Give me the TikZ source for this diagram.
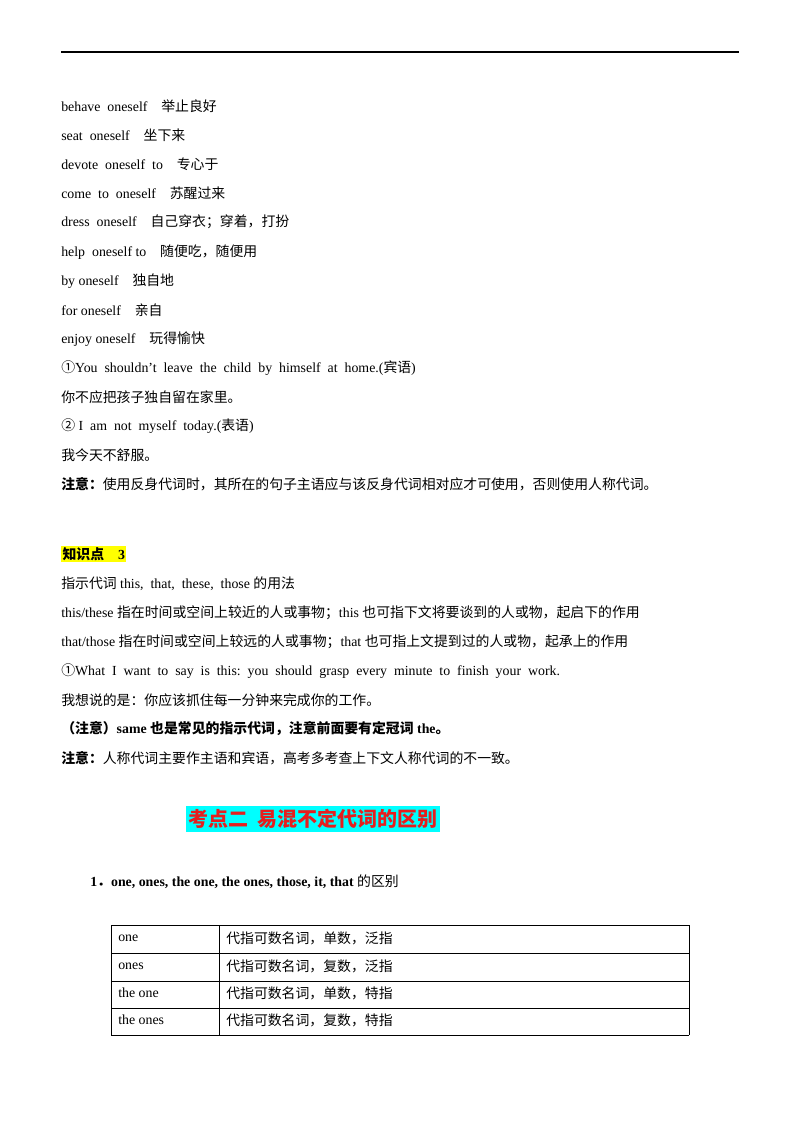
\documentclass[tikz,border=0pt]{standalone}
\usepackage{fontspec}
\setmainfont{Liberation Serif}
\newfontfamily\cjk{Noto Sans CJK SC}
\newcommand{\zh}[1]{{\cjk #1}}
\definecolor{hcyan}{RGB}{0,255,255}
\definecolor{hred}{RGB}{230,30,30}
\definecolor{hyel}{RGB}{255,255,0}
\begin{document}
\begin{tikzpicture}[x=0.75pt,y=-0.75pt,
  tx/.style={anchor=west,inner sep=0pt,font=\fontsize{10.4}{12}\selectfont},
  cell/.style={anchor=west,inner sep=0pt,font=\fontsize{10.4}{12}\selectfont}]
\useasboundingbox (0,0) rectangle (800,1132);
\fill[white] (0,0) rectangle (800,1132);
\draw[line width=1.5pt] (61,52) -- (739,52);
\node[tx] (l1) at (61,106) {behave\ \ oneself\quad \zh{举止良好}};
\node[tx] (l2) at (61,135) {seat\ \ oneself\quad \zh{坐下来}};
\node[tx] (l3) at (61,164) {devote\ \ oneself\ \ to\quad \zh{专心于}};
\node[tx] (l4) at (61,193) {come\ \ to\ \ oneself\quad \zh{苏醒过来}};
\node[tx] (l5) at (61,222) {dress\ \ oneself\quad \zh{自己穿衣；穿着，打扮}};
\node[tx] (l6) at (61,252) {help\ \ oneself to\quad \zh{随便吃，随便用}};
\node[tx] (l7) at (61,281) {by oneself\quad \zh{独自地}};
\node[tx] (l8) at (61,310) {for oneself\quad \zh{亲自}};
\node[tx] (l9) at (61,339) {enjoy oneself\quad \zh{玩得愉快}};
\node[tx] (l10) at (61,368) {\zh{①}You\ \ shouldn't\ \ leave\ \ the\ \ child\ \ by\ \ himself\ \ at\ \ home.(\zh{宾语})};
\node[tx] (l11) at (61,397) {\zh{你不应把孩子独自留在家里。}};
\node[tx] (l12) at (61,426) {\zh{②} I\ \ am\ \ not\ \ myself\ \ today.(\zh{表语})};
\node[tx] (l13) at (61,455) {\zh{我今天不舒服。}};
\node[tx] (l14) at (61,484) {{\cjk\bfseries 注意：}\zh{使用反身代词时，其所在的句子主语应与该反身代词相对应才可使用，否则使用人称代词。}};
\node[tx,fill=hyel,inner sep=1pt] (k3) at (61,554) {{\cjk\bfseries 知识点}\quad\textbf{3}};
\node[tx] (m1) at (61,584) {\zh{指示代词} this,\ \ that,\ \ these,\ \ those \zh{的用法}};
\node[tx] (m2) at (61,613) {this/these \zh{指在时间或空间上较近的人或事物；}this \zh{也可指下文将要谈到的人或物，起启下的作用}};
\node[tx] (m3) at (61,642) {that/those \zh{指在时间或空间上较远的人或事物；}that \zh{也可指上文提到过的人或物，起承上的作用}};
\node[tx] (m4) at (61,671) {\zh{①}What\ \ I\ \ want\ \ to\ \ say\ \ is\ \ this:\ \ you\ \ should\ \ grasp\ \ every\ \ minute\ \ to\ \ finish\ \ your\ \ work.};
\node[tx] (m5) at (61,700) {\zh{我想说的是：你应该抓住每一分钟来完成你的工作。}};
\node[tx] (m6) at (61,729) {{\cjk\bfseries （注意）}\textbf{same} {\cjk\bfseries 也是常见的指示代词，注意前面要有定冠词}\textbf{ the}{\cjk\bfseries 。}};
\node[tx] (m7) at (61,758) {{\cjk\bfseries 注意：}\zh{人称代词主要作主语和宾语，高考多考查上下文人称代词的不一致。}};
\node[anchor=center,fill=hcyan,text=hred,inner sep=2pt,minimum width=190pt,minimum height=20pt,font=\fontsize{15}{18}\selectfont\cjk\bfseries] (h2) at (313,819) {考点二\ \ 易混不定代词的区别};
\node[tx] (n1) at (90,882) {\textbf{1}{\cjk\bfseries ．}\textbf{one, ones, the one, the ones, those, it, that} \zh{的区别}};
\foreach \y in {925,953,981,1008,1035} \draw[line width=0.6pt] (111,\y) -- (689,\y);
\draw[line width=0.6pt] (111,925) -- (111,1035) (219,925) -- (219,1035) (689,925) -- (689,1035);
\node[cell] (a1) at (118,938) {one};
\node[cell] (b1) at (226,938) {\zh{代指可数名词，单数，泛指}};
\node[cell] (a2) at (118,966) {ones};
\node[cell] (b2) at (226,966) {\zh{代指可数名词，复数，泛指}};
\node[cell] (a3) at (118,993) {the one};
\node[cell] (b3) at (226,993) {\zh{代指可数名词，单数，特指}};
\node[cell] (a4) at (118,1020) {the ones};
\node[cell] (b4) at (226,1020) {\zh{代指可数名词，复数，特指}};
\end{tikzpicture}
\end{document}
